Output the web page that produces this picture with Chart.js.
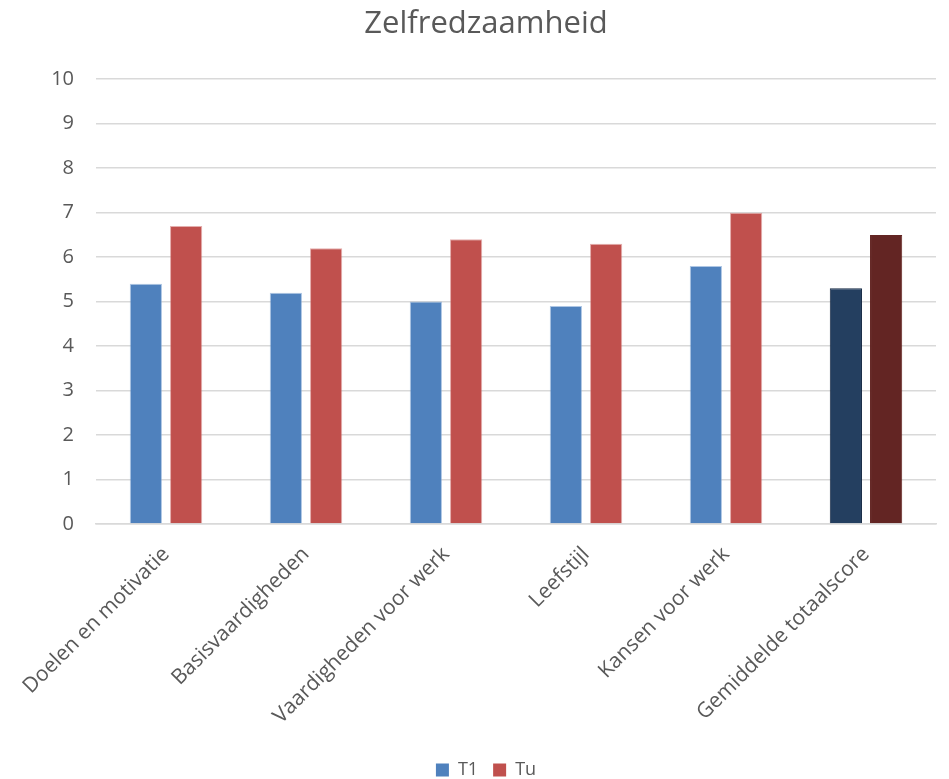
<!DOCTYPE html>
<html><head><meta charset="utf-8">
<script src="https://cdn.jsdelivr.net/npm/chart.js@4"></script>
<style>html,body{margin:0;padding:0;background:#fff}#wrap{width:949px;height:779px}</style>
</head><body><div id="wrap"><canvas id="c" width="949" height="779"></canvas></div>
<script>
const categories = ["Doelen en motivatie","Basisvaardigheden","Vaardigheden voor werk","Leefstijl","Kansen voor werk","Gemiddelde totaalscore"];
const seriesNames = ["T1","Tu"];
const t1Values = [5.4, 5.2, 5.0, 4.9, 5.8, 5.3];
const tuValues = [6.7, 6.2, 6.4, 6.3, 7.0, 6.5];
const yTicks = [0,1,2,3,4,5,6,7,8,9,10];

const blue = "#4F81BD", red = "#C0504D", darkBlue = "#243F60", darkRed = "#632523";
const t1Colors = categories.map((c,i)=> i===categories.length-1 ? darkBlue : blue);
const tuColors = categories.map((c,i)=> i===categories.length-1 ? darkRed : red);
const t1Borders = categories.map((c,i)=> i===categories.length-1 ? "#162a44" : "rgba(120,160,210,0.6)");
const tuBorders = categories.map((c,i)=> i===categories.length-1 ? darkRed : "rgba(210,120,118,0.6)");

const font = "'Open Sans', 'Liberation Sans', sans-serif";
const LEGEND_H = 33;
new Chart(document.getElementById("c"), {
  type: "bar",
  data: {
    labels: categories,
    datasets: [
      {label: seriesNames[0], data: t1Values, backgroundColor: t1Colors, borderColor: t1Borders, borderWidth: 1,
       categoryPercentage: 0.575, barPercentage: 0.8},
      {label: seriesNames[1], data: tuValues, backgroundColor: tuColors, borderColor: tuBorders, borderWidth: 1,
       categoryPercentage: 0.575, barPercentage: 0.8}
    ]
  },
  options: {
    responsive: false,
    animation: false,
    devicePixelRatio: 1,
    layout: {padding: {left: 36, right: 13, top: 0, bottom: 0}},
    plugins: {
      title: {display: true, text: "Zelfredzaamheid", color: "#595959",
        font: {family: font, size: 31, weight: "normal"}, padding: {top: 6, bottom: 36}},
      legend: {position: "bottom", maxHeight: LEGEND_H, labels: {color: "#595959", font: {family: font, size: 18},
        boxWidth: 13, boxHeight: 13, padding: 15,
        generateLabels: (chart)=> chart.data.datasets.map((d,i)=>({text: d.label, fillStyle: i===0?blue:red, strokeStyle: i===0?blue:red, lineWidth: 0, datasetIndex: i, fontColor: "#595959"}))}},
      tooltip: {enabled: false}
    },
    scales: {
      x: {
        grid: {display: false, drawTicks: false},
        border: {display: true, color: "#D9D9D9", width: 1.5},
        ticks: {color: "#595959", font: {family: font, size: 21}, minRotation: 45, maxRotation: 45, padding: 18, autoSkip: false},
        afterFit: (s)=>{ s.height = 779 - 524 - LEGEND_H; }
      },
      y: {
        min: 0, max: 10,
        afterBuildTicks: (s)=>{ s.ticks = yTicks.map(v=>({value: v})); },
        afterFit: (s)=>{ s.width = 60; },
        grid: {color: "#D9D9D9", lineWidth: 1.5, drawTicks: false},
        border: {display: false},
        ticks: {color: "#595959", font: {family: font, size: 20}, padding: 22}
      }
    }
  }
});
</script></body></html>
